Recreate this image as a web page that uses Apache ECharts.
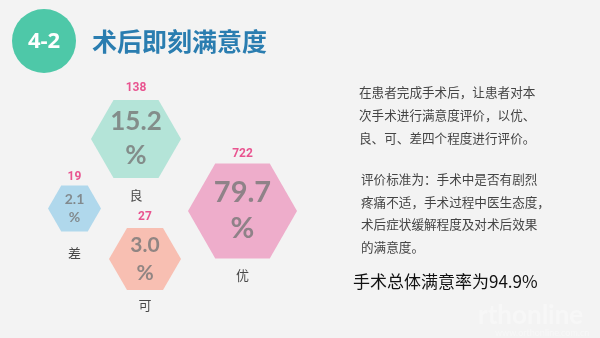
<!DOCTYPE html>
<html><head><meta charset="utf-8">
<script src="https://cdn.jsdelivr.net/npm/echarts@6/dist/echarts.min.js"></script>
<style>html,body{margin:0;padding:0;background:#f3f3f3}#c{width:600px;height:338px}</style>
</head><body><div id="c"></div>
<script>
// ---- data ----
const categories = ['优', '良', '可', '差'];
const counts = [722, 138, 27, 19];
const percents = ['79.7', '15.2', '3.0', '2.1'];
const introText = ['在患者完成手术后，让患者对本', '次手术进行满意度评价，以优、', '良、可、差四个程度进行评价。'];
const criteriaText = ['评价标准为：手术中是否有剧烈', '疼痛不适，手术过程中医生态度，', '术后症状缓解程度及对术后效果', '的满意度。'];
const summaryText = '手术总体满意率为94.9%';

// ---- layout (positions / sizes / styles) ----
const layout = [
  {c: [242.5, 211], size: [109, 95], color: '#ec9bc0', font: 29, lh: 36, top: 4, bottom: 10},
  {c: [136, 139], size: [90, 78], color: '#a4e0d1', font: 26, lh: 34, top: 6, bottom: 10.5},
  {c: [145, 259], size: [72, 62], color: '#f9b1a1', font: 21, lh: 28, top: 5, bottom: 8.5},
  {c: [74.5, 208.5], size: [53, 46], color: '#9fd1ea', font: 14, lh: 18, top: 3, bottom: 15}
];
const hex = 'path://M0,50 L25,6.7 L75,6.7 L100,50 L75,93.3 L25,93.3 Z';

const chart = echarts.init(document.getElementById('c'), null, {renderer: 'canvas'});

const hexData = categories.map((cat, i) => ({
  name: cat, value: layout[i].c, symbolSize: layout[i].size,
  itemStyle: {color: layout[i].color},
  label: {formatter: percents[i] + '\n%', fontSize: layout[i].font, lineHeight: layout[i].lh}
}));
const countData = categories.map((cat, i) => ({
  name: cat, value: layout[i].c, symbolSize: layout[i].size,
  label: {formatter: String(counts[i]), distance: layout[i].top}
}));
const catData = categories.map((cat, i) => ({
  name: cat, value: layout[i].c, symbolSize: layout[i].size,
  label: {formatter: cat, distance: layout[i].bottom}
}));

const textEls = [];
introText.forEach((t, i) => textEls.push({type: 'text', left: 359, top: 86 + i * 23,
  style: {text: t, fill: '#444', font: '12.6px "Noto Sans CJK SC"'}}));
criteriaText.forEach((t, i) => textEls.push({type: 'text', left: 361, top: 173 + i * 22.7,
  style: {text: t, fill: '#444', font: '12.6px "Noto Sans CJK SC"'}}));

chart.setOption({
  backgroundColor: '#f3f3f3',
  animation: false,
  grid: {left: 0, right: 0, top: 0, bottom: 0},
  xAxis: {type: 'value', min: 0, max: 600, show: false},
  yAxis: {type: 'value', min: 0, max: 338, inverse: true, show: false},
  graphic: [
    {type: 'circle', shape: {cx: 44, cy: 41, r: 32}, style: {fill: '#4ec8a8'}},
    {type: 'text', x: 44, y: 42, style: {text: '4-2', fill: '#fff', font: 'bold 22px "Open Sans"', align: 'center', verticalAlign: 'middle'}},
    {type: 'text', x: 92, y: 41, style: {text: '术后即刻满意度', fill: '#2a7db0', font: 'bold 25px "Noto Sans CJK SC"', verticalAlign: 'middle'}},
    ...textEls,
    {type: 'text', left: 353, top: 273, style: {text: summaryText, fill: '#111', font: '17px "Noto Sans CJK SC"'}},
    {type: 'text', left: 478, top: 303, style: {text: 'rthonline', fill: '#f7f7f7', font: 'bold 26px Lato'}},
    {type: 'text', left: 495, top: 329, style: {text: 'www.orthonline.com.cn', fill: '#f7f7f7', font: '9px Lato'}}
  ],
  series: [
    {type: 'scatter', symbol: hex, data: hexData, z: 2,
      label: {show: true, position: 'inside', color: '#777', fontWeight: 'bold', fontFamily: 'Lato', align: 'center'}},
    {type: 'scatter', symbol: hex, data: countData, itemStyle: {color: 'rgba(0,0,0,0)'}, z: 3, silent: true,
      label: {show: true, position: 'top', color: '#e62c77', fontWeight: 'bold', fontSize: 12, fontFamily: 'Roboto'}},
    {type: 'scatter', symbol: hex, data: catData, itemStyle: {color: 'rgba(0,0,0,0)'}, z: 3, silent: true,
      label: {show: true, position: 'bottom', color: '#1a1a1a', fontSize: 13, fontFamily: '"Noto Sans CJK SC"'}}
  ]
});
</script></body></html>
